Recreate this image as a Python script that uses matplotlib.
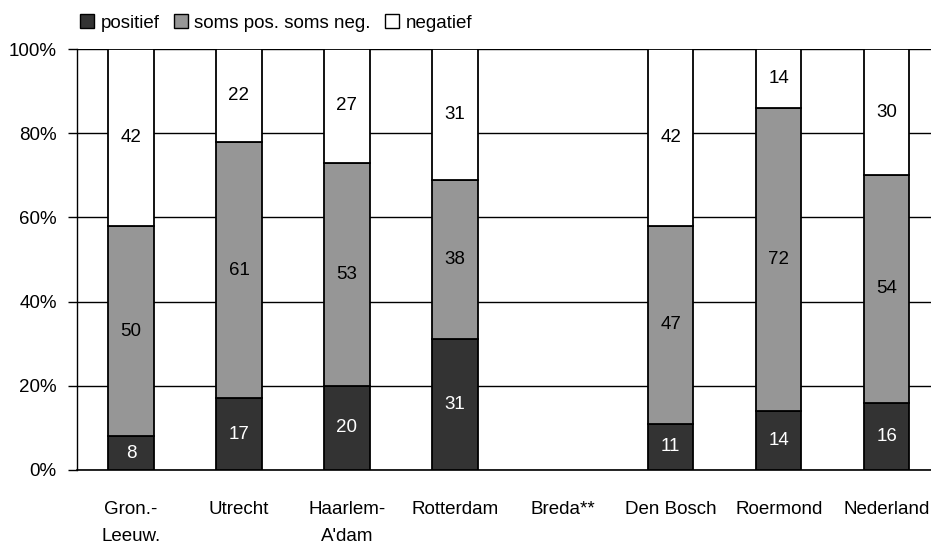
import numpy as np
import matplotlib.pyplot as plt
from matplotlib.patches import Patch

plt.rcParams['font.family'] = ['Liberation Sans Narrow', 'Liberation Sans', 'DejaVu Sans']

regios = ['Gron.-\nLeeuw.', 'Utrecht', 'Haarlem-\nA\'dam', 'Rotterdam', 'Breda**',
          'Den Bosch', 'Roermond', 'Nederland']
positief = np.array([8, 17, 20, 31, np.nan, 11, 14, 16])
soms = np.array([50, 61, 53, 38, np.nan, 47, 72, 54])
negatief = np.array([42, 22, 27, 31, np.nan, 42, 14, 30])

kleuren = ['#333333', '#969696', 'white']
namen = ['positief', 'soms pos. soms neg.', 'negatief']

fig = plt.figure(figsize=(9.31, 5.47), dpi=100)
ax = fig.add_axes([77 / 931, 1 - 470 / 547, 1 - 77 / 931, (470 - 49) / 547])

x = np.arange(len(regios))
w = 0.42
fs = 13.5
onder = np.zeros(len(regios))
for vals, kleur, naam in zip([positief, soms, negatief], kleuren, namen):
    ax.bar(x, vals, w, bottom=onder, color=kleur, edgecolor='black', linewidth=1.3, zorder=3)
    for xi, v, b in zip(x, vals, onder):
        if np.isnan(v):
            continue
        tc = 'white' if kleur == '#333333' else 'black'
        ax.text(xi, b + v / 2, '%d' % v, ha='center', va='center', fontsize=fs, color=tc, zorder=4)
    onder = onder + np.nan_to_num(vals)

ax.set_xlim(-0.5, 7.41)
ax.set_ylim(0, 100)
ax.set_yticks(np.arange(0, 101, 20))
ax.set_yticklabels(['%d%%' % v for v in range(0, 101, 20)], fontsize=fs)
ax.set_xticks(x)
ax.set_xticklabels(regios, fontsize=fs, linespacing=1.8)
ax.tick_params(axis='x', length=0, pad=22)
ax.tick_params(axis='y', length=6.5, width=1, direction='out', pad=8)
ax.yaxis.grid(True, color='black', linewidth=1)
ax.set_axisbelow(True)
ax.spines['top'].set_visible(False)
ax.spines['right'].set_visible(False)
ax.spines['left'].set_linewidth(1)
ax.spines['bottom'].set_linewidth(1.2)

handles = [Patch(facecolor=k, edgecolor='black', linewidth=1) for k in kleuren]
fig.legend(handles, namen, loc='upper left', bbox_to_anchor=(63 / 931, 1.005), ncol=3,
           frameon=False, fontsize=fs, handlelength=0.75, handleheight=0.75,
           handletextpad=0.35, columnspacing=0.75)

plt.savefig('out.png', dpi=100)
